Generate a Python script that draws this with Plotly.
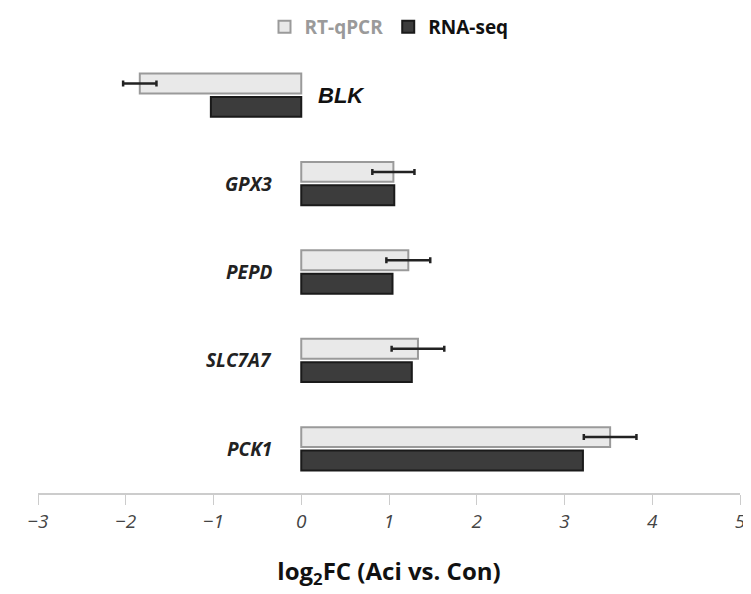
import plotly.graph_objects as go

genes = ["BLK", "GPX3", "PEPD", "SLC7A7", "PCK1"]
rtqpcr = [-1.84, 1.05, 1.22, 1.33, 3.52]
rtqpcr_err = [0.19, 0.24, 0.25, 0.30, 0.30]
rnaseq = [-1.03, 1.06, 1.04, 1.26, 3.21]
x_ticks = [-3, -2, -1, 0, 1, 2, 3, 4, 5]

fig = go.Figure()
fig.add_trace(go.Bar(
    y=genes, x=rtqpcr, orientation="h",
    name="<span style='color:#9a9a9a'>RT-qPCR</span>",
    marker=dict(color="#e9e9e9", line=dict(color="#9a9a9a", width=2)),
    error_x=dict(type="data", array=rtqpcr_err, visible=True, color="#222222", thickness=2.5, width=3),
))
fig.add_trace(go.Bar(
    y=genes, x=rnaseq, orientation="h",
    name="RNA-seq",
    marker=dict(color="#3c3c3c", line=dict(color="#1a1a1a", width=2)),
))

for g, v in zip(genes, rtqpcr):
    if v < 0:
        fig.add_annotation(x=0, y=g, text="<b><i>%s</i></b>" % g, showarrow=False,
                           xanchor="left", xshift=15, yshift=0,
                           font=dict(size=22, color="#111111", family="Liberation Sans"))
    else:
        fig.add_annotation(x=0, y=g, text="<b><i>%s</i></b>" % g, showarrow=False,
                           xanchor="right", xshift=-27, yshift=0,
                           font=dict(size=19, color="#222222", family="Open Sans"))

fig.update_layout(
    width=751, height=594,
    margin=dict(l=30, r=19, t=43, b=109, autoexpand=False),
    plot_bgcolor="white", paper_bgcolor="white",
    barmode="group", bargap=0.47, bargroupgap=0.15,
    showlegend=True,
    legend=dict(orientation="h", x=0.5, xanchor="center", y=1.0, yanchor="top",
                yref="container", font=dict(size=19, family="Open Sans", color="#111111", weight="bold"),
                itemwidth=30, traceorder="normal"),
    font=dict(family="Open Sans"),
)
fig.update_xaxes(
    range=[-3, 5], tickvals=x_ticks, showgrid=False, zeroline=False,
    showline=True, linecolor="#cccccc", linewidth=2, automargin=False,
    ticks="outside", tickcolor="#cccccc", ticklen=10, tickwidth=1,
    ticklabeloverflow="allow",
    tickfont=dict(size=19, color="#444444", style="italic"),
    title=dict(text="<b>log<sub>2</sub>FC (Aci vs. Con)</b>", font=dict(size=24, color="#111111"), standoff=30),
)
fig.update_yaxes(autorange="reversed", showticklabels=False, showgrid=False,
                 zeroline=False, showline=False, ticks="", automargin=False)

fig.write_html("out.html")
